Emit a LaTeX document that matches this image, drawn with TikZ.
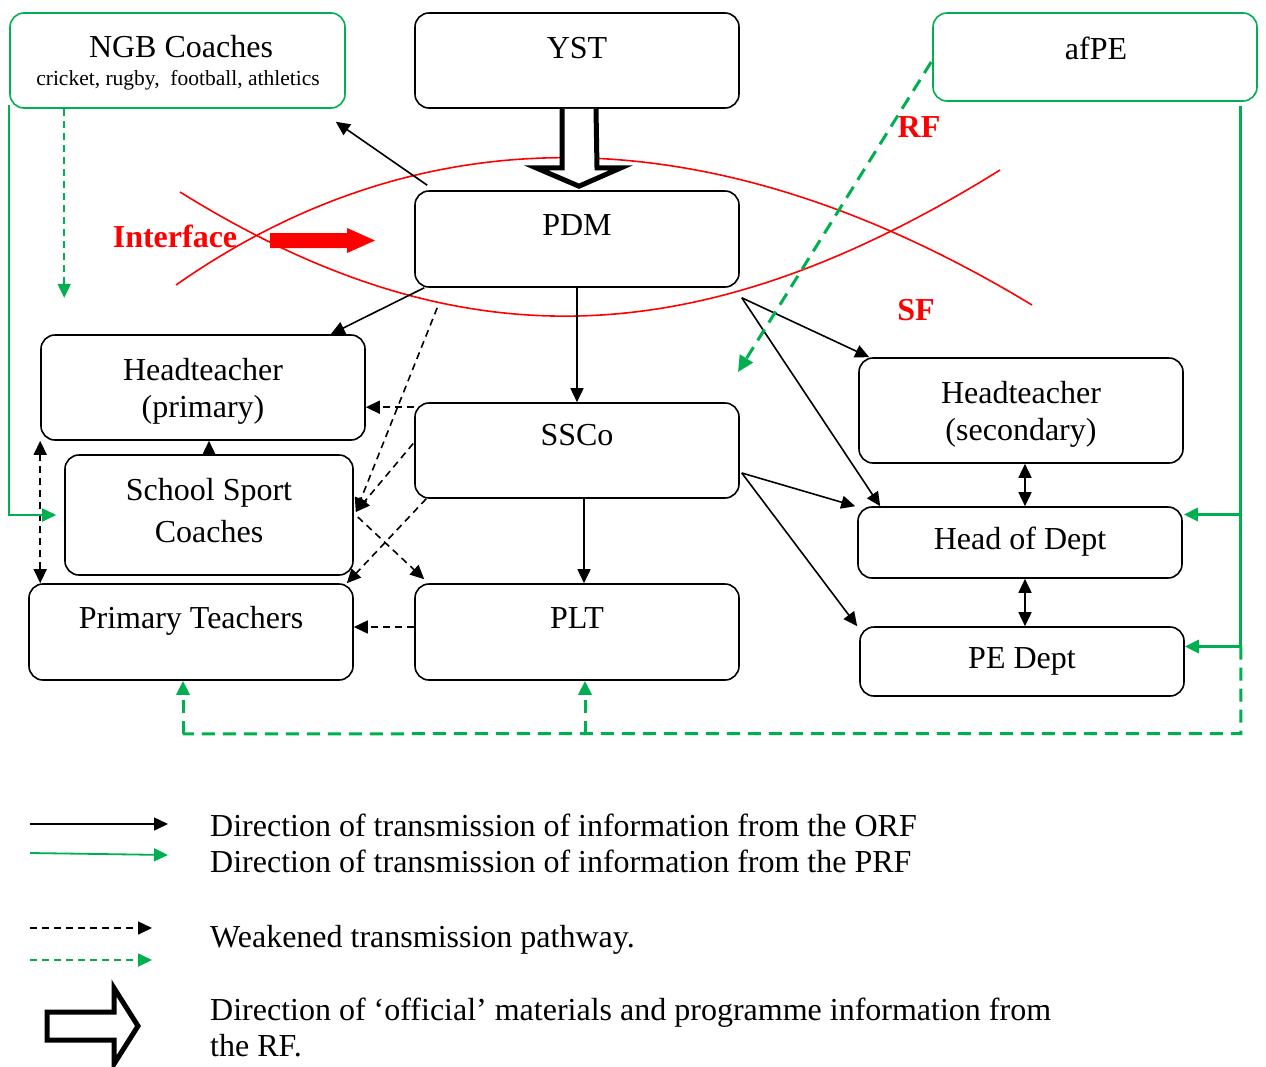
\documentclass[tikz,border=0pt]{standalone}
\usepackage{fontspec}
\setmainfont{Liberation Serif}
\usetikzlibrary{arrows.meta,calc}
\definecolor{ogreen}{HTML}{00B050}
\definecolor{ored}{HTML}{FF0000}
\begin{document}
\begin{tikzpicture}[x=1pt,y=-1pt,
  box/.style={draw=black, line width=1.6pt, rounded corners=14pt, inner sep=0pt, fill=white},
  gbox/.style={box, draw=ogreen},
  txt/.style={inner sep=0pt, anchor=base, font=\fontsize{32}{38}\selectfont},
  smalltxt/.style={inner sep=0pt, anchor=base, font=\fontsize{21.5}{25}\selectfont},
  redtxt/.style={inner sep=0pt, anchor=base, text=ored, font=\fontsize{32}{38}\selectfont\bfseries},
  legtxt/.style={inner sep=0pt, anchor=base west, font=\fontsize{32}{38}\selectfont},
  tip/.tip={Triangle[length=14pt,width=13pt]},
  blk/.style={line width=1.6pt, -tip},
  dblk/.style={line width=1.6pt, tip-tip},
  dsh/.style={line width=1.6pt, dash pattern=on 7pt off 5pt, -tip},
  ddsh/.style={line width=1.6pt, dash pattern=on 7pt off 5pt, tip-tip},
  grn/.style={draw=ogreen, line width=1.8pt, -tip, ogreen},
  grnthick/.style={draw=ogreen, line width=3pt},
  gdsh/.style={draw=ogreen, line width=1.8pt, dash pattern=on 7pt off 5pt, -tip, ogreen},
  gdshthick/.style={draw=ogreen, line width=3pt, dash pattern=on 13pt off 8pt},
  hollow/.style={draw=black, line width=5pt, fill=white, line join=miter},
  redline/.style={draw=ored, line width=1.6pt}
]
\useasboundingbox (0,0) rectangle (1266,1066);

% framework boundaries
\draw[redline] (176,285) .. controls (423,112) and (713,112) .. (1032,305);
\draw[redline] (180,192) .. controls (452,361) and (693,361) .. (1000,170);

% boxes
\node[gbox, minimum width=335pt, minimum height=95pt] (ngb) at (177.5,60.5) {};
\node[box, minimum width=324pt, minimum height=95pt] (yst) at (577,60.5) {};
\node[gbox, minimum width=324pt, minimum height=88pt] (afpe) at (1095,57) {};
\node[box, minimum width=324pt, minimum height=96pt] (pdm) at (577,239) {};
\node[box, minimum width=324pt, minimum height=105pt] (htp) at (203,387.5) {};
\node[box, minimum width=288pt, minimum height=120pt] (ssc) at (209,515) {};
\node[box, minimum width=324pt, minimum height=96pt] (pt) at (191,632) {};
\node[box, minimum width=324pt, minimum height=95pt] (ssco) at (577,450.5) {};
\node[box, minimum width=324pt, minimum height=96pt] (plt) at (577,632) {};
\node[box, minimum width=324pt, minimum height=105pt] (hts) at (1021,410.5) {};
\node[box, minimum width=324pt, minimum height=71pt] (hod) at (1020,542.5) {};
\node[box, minimum width=324pt, minimum height=69pt] (ped) at (1022,661.5) {};

% box texts
\node[txt] (ngb-t) at (181,57) {NGB Coaches};
\node[smalltxt] (ngb-s) at (178,85) {cricket, rugby,~ football, athletics};
\node[txt] (yst-t) at (577,58) {YST};
\node[txt] (afpe-t) at (1096,59) {afPE};
\node[txt] (pdm-t) at (577,235) {PDM};
\node[txt] (htp-t1) at (203,380) {Headteacher};
\node[txt] (htp-t2) at (203,417) {(primary)};
\node[txt] (ssc-t1) at (209,500) {School Sport};
\node[txt] (ssc-t2) at (209,542) {Coaches};
\node[txt] (pt-t) at (191,628) {Primary Teachers};
\node[txt] (ssco-t) at (577,445) {SSCo};
\node[txt] (plt-t) at (577,628) {PLT};
\node[txt] (hts-t1) at (1021,403) {Headteacher};
\node[txt] (hts-t2) at (1021,440) {(secondary)};
\node[txt] (hod-t) at (1020,549) {Head of Dept};
\node[txt] (ped-t) at (1022,668) {PE Dept};

% labels of the frameworks
\node[redtxt] (iface) at (175,247) {Interface};
\node[redtxt] (rf) at (919,137) {RF};
\node[redtxt] (sf) at (916,320) {SF};
\fill[ored] (270,233) -- (347,233) -- (347,228) -- (375,240.5) -- (347,253) -- (347,248) -- (270,248) -- cycle;

% official materials: YST -> PDM
\draw[hollow] ($(yst.south)+(-15,0)$) -- ++(0,59) -- ++(-26,0) -- ($(pdm.north)+(2,-4)$)
  -- ($(yst.south)+(44,59)$) -- ++(-24,0) -- ($(yst.south)+(19,0)$);

% ORF transmission
\draw[blk] ($(pdm.north west)+(13,-5)$) -- ($(ngb.south east)+(-10,13)$);
\draw[blk] ($(pdm.south west)+(10,0)$) -- ($(htp.north east)+(-35,0)$);
\draw[blk] (pdm.south) -- (ssco.north);
\coordinate (pdmout) at ($(pdm.south east)+(2,10)$);
\draw[blk] (pdmout) -- ($(hts.north west)+(11,0)$);
\draw[blk] (pdmout) -- ($(hod.north west)+(23,0)$);
\coordinate (sscoout) at ($(ssco.east)+(2,22.5)$);
\draw[blk] (sscoout) -- ($(hod.north west)+(-2,0)$);
\draw[blk] (sscoout) -- ($(ped.north west)+(-2,0)$);
\draw[blk] ($(ssco.south)+(7,0)$) -- ($(plt.north)+(7,0)$);
\draw[dblk] ($(hts.south)+(4,0)$) -- ($(hod.north)+(5,0)$);
\draw[dblk] ($(hod.south)+(5,0)$) -- ($(ped.north)+(3,0)$);
\draw[blk] (ssc.north) -- (ssc.north |- htp.south);

% weakened pathways
\coordinate (sscoleft) at ($(ssco.north west)+(0,5)$);
\draw[dsh] (sscoleft) -- (sscoleft -| htp.east);
\coordinate (sscin) at ($(ssc.east)+(2,-3)$);
\draw[dsh] ($(pdm.south west)+(23,20)$) -- (sscin);
\draw[dsh] ($(ssco.west)+(-1,-7)$) -- (sscin);
\draw[dsh] ($(ssco.south west)+(12,0)$) -- ($(pt.north east)+(-7,0)$);
\draw[dsh] ($(ssc.east)+(4,2)$) -- ($(plt.north west)+(10,-4)$);
\coordinate (pltleft) at ($(plt.west)+(0,-5)$);
\draw[dsh] (pltleft) -- (pltleft -| pt.east);
\draw[ddsh] (htp.south west) -- ($(pt.north west)+(12,0)$);

% PRF transmission
\coordinate (ngbend) at ($(ngb.south west)+(55,189)$);
\draw[gdsh] ($(ngb.south west)+(55,0)$) -- (ngbend);
\draw[grn] ($(ngb.south west)+(0,-4)$) |- ($(ssc.west)+(-8,0)$);
\coordinate (afpeend) at (738,372);
\draw[draw=ogreen, line width=3pt, dash pattern=on 13pt off 8pt, -{Triangle[length=16pt,width=15pt]}, ogreen]
  ($(afpe.west)+(-1,5)$) -- (afpeend);
\coordinate (trunk) at ($(afpe.south east)+(-17,4)$);
\coordinate (hodin) at ($(hod.east)+(1,-28)$);
\coordinate (pedin) at ($(ped.east)+(0,-15)$);
\draw[grnthick] (trunk) -- (trunk |- pedin);
\draw[grn, line width=3pt] (trunk |- hodin) -- (hodin);
\draw[grn, line width=3pt] (trunk |- pedin) -- (pedin);
\coordinate (loopcorner) at ($(trunk |- pedin)+(0,87)$);
\draw[gdshthick] (trunk |- pedin) -- (loopcorner) -- ($(pt.south)+(-8,53)$);
\draw[gdshthick, -tip, ogreen] ($(plt.south)+(8,53)$) -- ($(plt.south)+(8,0)$);
\draw[gdshthick, -tip, ogreen] ($(pt.south)+(-8,53)$) -- ($(pt.south)+(-8,0)$);

% legend
\coordinate (l1a) at (30,824); \coordinate (l1b) at (168,824);
\coordinate (l2a) at (30,853); \coordinate (l2b) at (168,855);
\coordinate (l3a) at (30,928); \coordinate (l3b) at (152,928);
\coordinate (l4a) at (30,960); \coordinate (l4b) at (152,960);
\draw[blk] (l1a) -- (l1b);
\draw[grn] (l2a) -- (l2b);
\draw[dsh] (l3a) -- (l3b);
\draw[gdsh] (l4a) -- (l4b);
\draw[hollow] (47,1012) -- (114,1012) -- (114,988) -- (138,1026) -- (114,1064) -- (114,1040) -- (47,1040) -- cycle;
\node[legtxt] (leg1) at (210,836) {Direction of transmission of information from the ORF};
\node[legtxt] (leg2) at (210,872) {Direction of transmission of information from the PRF};
\node[legtxt] (leg3) at (210,947) {Weakened transmission pathway.};
\node[legtxt] (leg4) at (210,1020) {Direction of `official' materials and programme information from};
\node[legtxt] (leg5) at (210,1056) {the RF.};
\end{tikzpicture}
\end{document}
